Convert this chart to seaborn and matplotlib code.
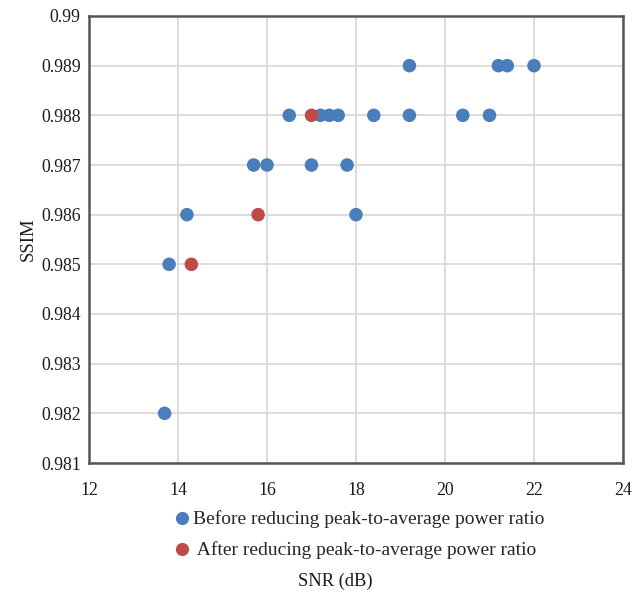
import matplotlib
matplotlib.use("Agg")
import matplotlib.pyplot as plt
import seaborn as sns
import pandas as pd
from matplotlib.lines import Line2D

# Data
before_snr = [13.7, 13.8, 14.2, 15.7, 16.0, 16.5, 17.0, 17.2, 17.4, 17.6, 17.8, 18.0,
              18.4, 19.2, 19.2, 20.4, 21.0, 21.2, 21.4, 22.0]
before_ssim = [0.982, 0.985, 0.986, 0.987, 0.987, 0.988, 0.987, 0.988, 0.988, 0.988, 0.987, 0.986,
               0.988, 0.988, 0.989, 0.988, 0.988, 0.989, 0.989, 0.989]
after_snr = [14.3, 15.8, 17.0]
after_ssim = [0.985, 0.986, 0.988]

series_names = ["Before reducing peak-to-average power ratio",
                "After reducing peak-to-average power ratio"]
x_ticks = [12, 14, 16, 18, 20, 22, 24]
y_ticks = [0.981, 0.982, 0.983, 0.984, 0.985, 0.986, 0.987, 0.988, 0.989, 0.99]
y_tick_labels = ["0.981", "0.982", "0.983", "0.984", "0.985", "0.986", "0.987", "0.988", "0.989", "0.99"]

df = pd.DataFrame({
    "SNR": before_snr + after_snr,
    "SSIM": before_ssim + after_ssim,
    "Series": [series_names[0]] * len(before_snr) + [series_names[1]] * len(after_snr),
})

sns.set_theme(style="white")
plt.rcParams["font.family"] = ["Liberation Serif", "DejaVu Serif"]

colors = {series_names[0]: "#4A7EBB", series_names[1]: "#BE4B48"}

fig = plt.figure(figsize=(6.41, 5.94), dpi=100)
ax = fig.add_axes([89 / 641, 1 - 463 / 594, (623 - 89) / 641, (463 - 16) / 594])

sns.scatterplot(data=df, x="SNR", y="SSIM", hue="Series", palette=colors,
                s=95, edgecolor="none", ax=ax, legend=False, zorder=3)

ax.set_xlim(12, 24)
ax.set_ylim(0.981, 0.99)
ax.set_xticks(x_ticks)
ax.set_xticklabels([str(t) for t in x_ticks], fontsize=12.8, color="#1a1a1a")
ax.set_yticks(y_ticks)
ax.set_yticklabels(y_tick_labels, fontsize=12.8, color="#1a1a1a")
ax.tick_params(axis="x", length=0, pad=14)
ax.tick_params(axis="y", length=0, pad=6)
ax.grid(True, color="#D9D9D9", linewidth=1.3, zorder=0)
ax.set_axisbelow(True)
for sp in ax.spines.values():
    sp.set_color("#555555")
    sp.set_linewidth(1.8)

ax.set_xlabel("")
ax.set_ylabel("SSIM", fontsize=13.5, color="#1a1a1a", labelpad=3)

handles = [Line2D([], [], marker="o", linestyle="none", markersize=9.5,
                  markerfacecolor=colors[n], markeredgecolor="none") for n in series_names]
labels = [series_names[0], " " + series_names[1]]
fig.legend(handles, labels, loc="center left",
           bbox_to_anchor=(170 / 641, 1 - 535 / 594), frameon=False,
           fontsize=14, handletextpad=0.0, labelspacing=0.68, borderaxespad=0,
           borderpad=0, handlelength=1.2)

fig.text(335 / 641, 1 - 581 / 594, "SNR (dB)", ha="center", va="center",
         fontsize=13.3, color="#1a1a1a")

fig.savefig("out.png", dpi=100, facecolor="white")
